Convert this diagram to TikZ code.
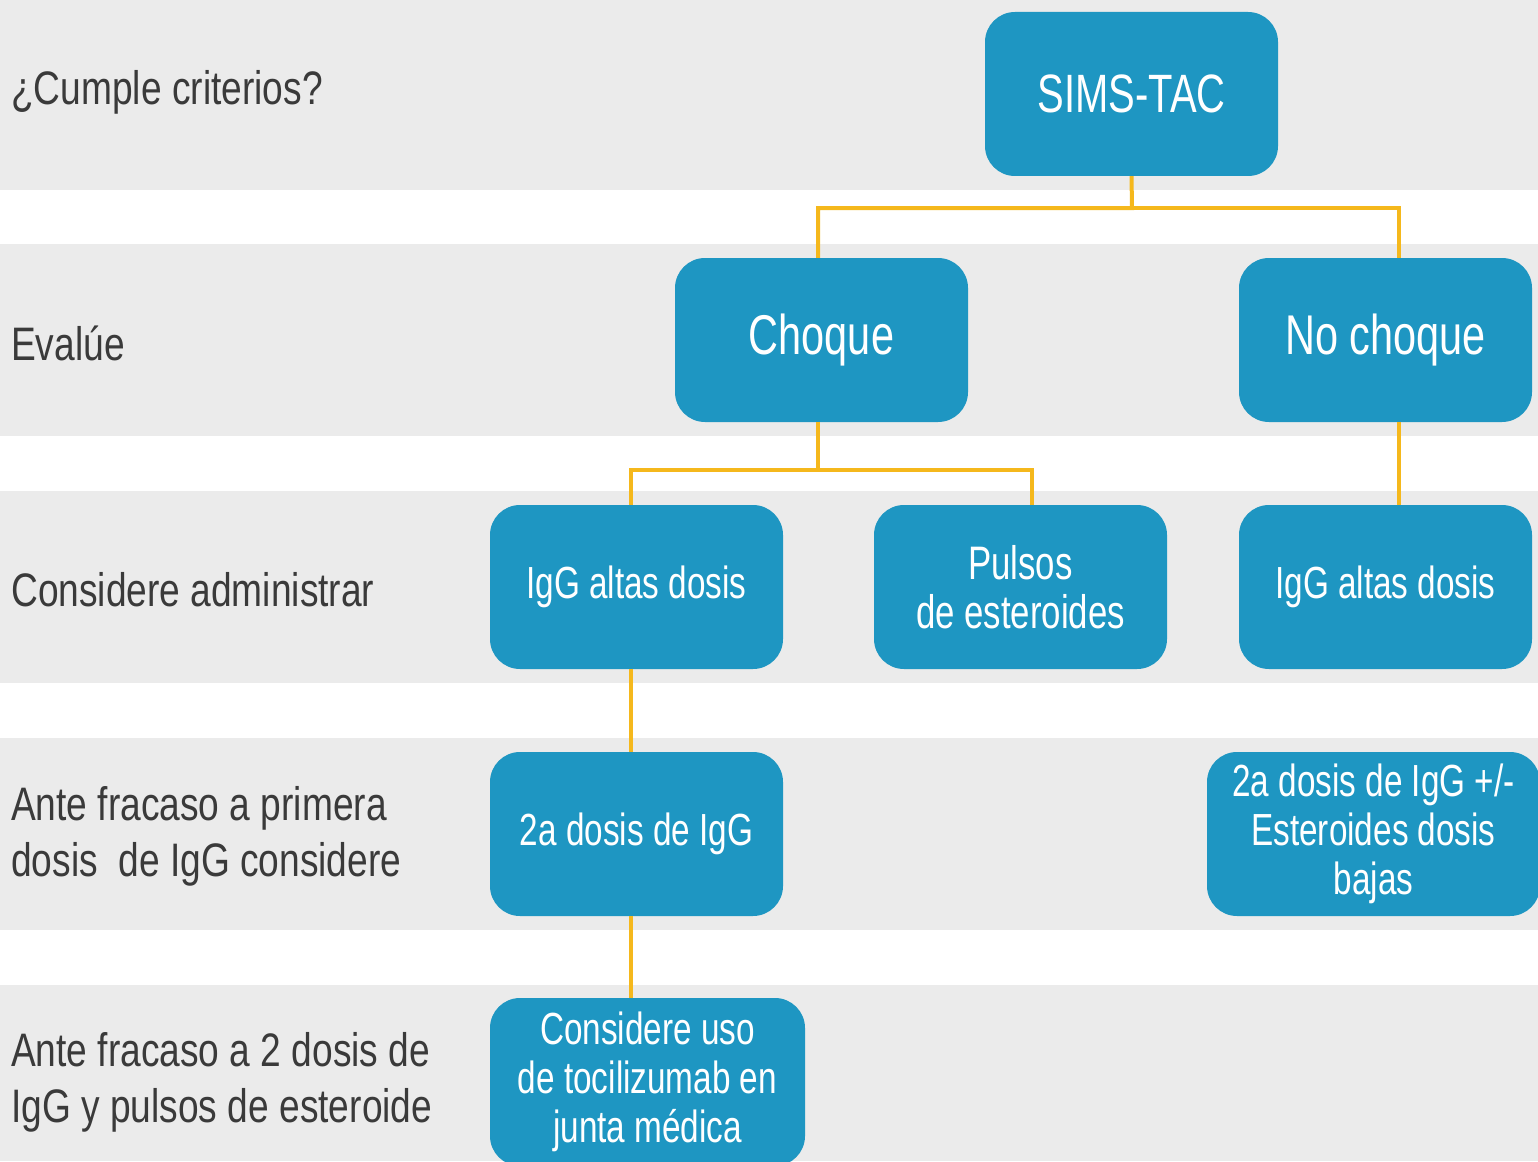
\documentclass[tikz,border=0pt]{standalone}
\usepackage{fontspec}
\setmainfont{Liberation Sans}[FakeStretch=0.74]
\newfontfamily\labelfont{Liberation Sans}[FakeStretch=0.79]
\definecolor{bandgray}{HTML}{EBEBEB}
\definecolor{boxblue}{HTML}{1E96C2}
\definecolor{linkyellow}{HTML}{F5B81C}
\definecolor{labeltext}{HTML}{3A3A3A}
\tikzset{
  stepbox/.style={fill=boxblue, draw=none, rounded corners=30pt, text=white, align=center, inner sep=0pt, minimum width=293pt, minimum height=164pt},
  bigtxt/.style={font=\fontsize{56}{62}\selectfont},
  midtxt/.style={font=\fontsize{45}{49}\selectfont},
  rowlabel/.style={anchor=west, text=labeltext, align=left, inner sep=0pt, font=\labelfont\fontsize{47}{56}\selectfont},
  link/.style={draw=linkyellow, line width=4pt},
}
\begin{document}
\begin{tikzpicture}[x=1pt,y=-1pt]
\useasboundingbox (0,0) rectangle (1538,1161);
\clip (0,0) rectangle (1538,1161);
% bands
\fill[white] (0,0) rectangle (1538,1161);
\foreach \a/\b in {0/190, 244/436, 491/683, 738/930, 985/1161}
  \fill[bandgray] (0,\a) rectangle (1538,\b);
% row labels
\node[rowlabel] (l1) at (11,92) {¿Cumple criterios?};
\node[rowlabel] (l2) at (11,343) {Evalúe};
\node[rowlabel] (l3) at (11,590) {Considere administrar};
\node[rowlabel] (l4) at (11,836) {Ante fracaso a primera\\dosis\ \ de IgG considere};
\node[rowlabel] (l5) at (11,1082) {Ante fracaso a 2 dosis de\\IgG y pulsos de esteroide};
% boxes
\node[stepbox, font=\fontsize{54}{62}\selectfont] (sims) at (1131.5,94) {SIMS-TAC};
\node[stepbox, bigtxt] (choque) at (821.5,340) {Choque};
\node[stepbox, bigtxt] (nochoque) at (1385.5,340) {No choque};
\node[stepbox, midtxt] (igl) at (636.5,587) {IgG altas dosis};
\node[stepbox, font=\fontsize{47}{49}\selectfont] (pulsos) at (1020.5,587) {Pulsos\\de esteroides};
\node[stepbox, midtxt] (igr) at (1385.5,587) {IgG altas dosis};
\node[stepbox, midtxt] (dos) at (636.5,834) {2a dosis de IgG};
\node[stepbox, midtxt, minimum width=333pt] (dosr) at (1373.5,834) {2a dosis de IgG +/-\\Esteroides dosis\\bajas};
\node[stepbox, midtxt, minimum width=315pt, minimum height=168pt] (toci) at (647.5,1082) {Considere uso\\de tocilizumab en\\junta médica};
% connectors
\coordinate (j1) at (1132,208);
\coordinate (j2) at (818,470);
\draw[link] (sims.south) -- (j1) -| ([xshift=-3.5pt]choque.north);
\draw[link] (j1) -| ([xshift=13.5pt]nochoque.north);
\draw[link] ([xshift=-3.5pt]choque.south) -- (j2) -| ([xshift=-5.5pt]igl.north);
\draw[link] (j2) -| ([xshift=11.5pt]pulsos.north);
\draw[link] ([xshift=13.5pt]nochoque.south) -- ([xshift=13.5pt]igr.north);
\draw[link] ([xshift=-5.5pt]igl.south) -- ([xshift=-5.5pt]dos.north);
\draw[link] ([xshift=-5.5pt]dos.south) -- ([xshift=-16.5pt]toci.north);
\end{tikzpicture}
\end{document}
